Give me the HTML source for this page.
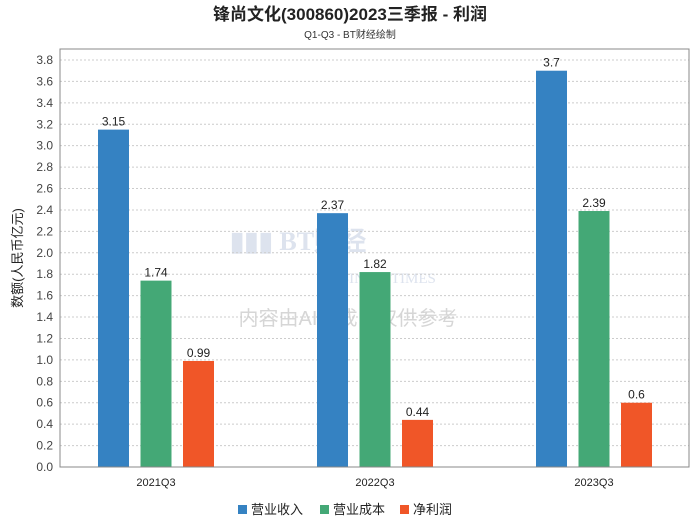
<!DOCTYPE html>
<html><head><meta charset="utf-8"><style>
body{margin:0;background:#fff;width:700px;height:524px;overflow:hidden;font-family:"Liberation Sans","Noto Sans CJK SC",sans-serif}
</style></head><body>
<svg id="c" width="700" height="524" xmlns="http://www.w3.org/2000/svg">
<text x="350" y="20" text-anchor="middle" font-size="17" font-weight="bold" fill="#222" font-family="Liberation Sans,Noto Sans CJK SC,sans-serif">锋尚文化(300860)2023三季报 - 利润</text>
<text x="350" y="38" text-anchor="middle" font-size="10" fill="#333" font-family="Liberation Sans,Noto Sans CJK SC,sans-serif">Q1-Q3 - BT财经绘制</text>
<text x="230" y="250" font-size="26" font-weight="bold" fill="#dde3ee" font-family="Liberation Serif,serif">▮▮▮ BT财经</text>
<text x="320" y="283" font-size="15" fill="#dde3ee" font-family="Liberation Serif,serif">BUSINESSTIMES</text>
<text x="348" y="325" text-anchor="middle" font-size="20" fill="#d6d6d6" font-family="Liberation Sans,Noto Sans CJK SC,sans-serif">内容由AI生成，仅供参考</text>
<text transform="translate(22,258) rotate(-90)" text-anchor="middle" font-size="13" fill="#222" font-family="Liberation Sans,Noto Sans CJK SC,sans-serif">数额(人民币亿元)</text>
<g id="grid"></g><g id="bars"></g>
<rect x="60" y="49" width="629" height="418" fill="none" stroke="#888"/>
<g id="legend"></g>
</svg>
<script>
const categories=["2021Q3","2022Q3","2023Q3"];
const seriesNames=["营业收入","营业成本","净利润"];
const revenue=[3.15,2.37,3.7];
const cost=[1.74,1.82,2.39];
const profit=[0.99,0.44,0.6];
const colors=["#3582c2","#44a876","#f05628"];
const ticks=[0,0.2,0.4,0.6,0.8,1.0,1.2,1.4,1.6,1.8,2.0,2.2,2.4,2.6,2.8,3.0,3.2,3.4,3.6,3.8];
const NS="http://www.w3.org/2000/svg";
const y=v=>467-v*(407/3.8);
const xc=i=>156+i*219;
function mk(t,a,p){const e=document.createElementNS(NS,t);for(const k in a)e.setAttribute(k,a[k]);p.appendChild(e);return e;}
const g=document.getElementById('grid'),b=document.getElementById('bars'),L=document.getElementById('legend');
ticks.forEach(t=>{
 const l=mk('line',{x1:60,x2:689,y1:y(t),y2:y(t),stroke:'#ccc','stroke-dasharray':'2,2'},g);
 
 
 const tx=mk('text',{x:53,y:y(t)+4,'text-anchor':'end','font-size':12,fill:'#444'},g);
 tx.textContent=t.toFixed(1);
 
 
});
const series=[revenue,cost,profit];
categories.forEach((c,i)=>{
 const tx=mk('text',{x:xc(i),y:486,'text-anchor':'middle','font-size':11,fill:'#222'},g);
 tx.textContent=c;
 
 
 series.forEach((s,j)=>{
  const cx=xc(i)+(j-1)*42.5;
  const r=mk('rect',{x:cx-15.5,y:y(s[i]),width:31,height:467-y(s[i]),fill:colors[j]},b);
  
  
  const v=mk('text',{x:cx,y:y(s[i])-4,'text-anchor':'middle','font-size':12,fill:'#222'},b);
  v.textContent=String(s[i]);
  
  
 });
});
const lx=[238,320,400];
seriesNames.forEach((n,j)=>{
 const r=mk('rect',{x:lx[j],y:505,width:9,height:9,fill:colors[j]},L);
 
 
 const t=mk('text',{x:lx[j]+13,y:514,'font-size':13,fill:'#222'},L);
 t.textContent=n;
 
 
});
</script>
</body></html>
